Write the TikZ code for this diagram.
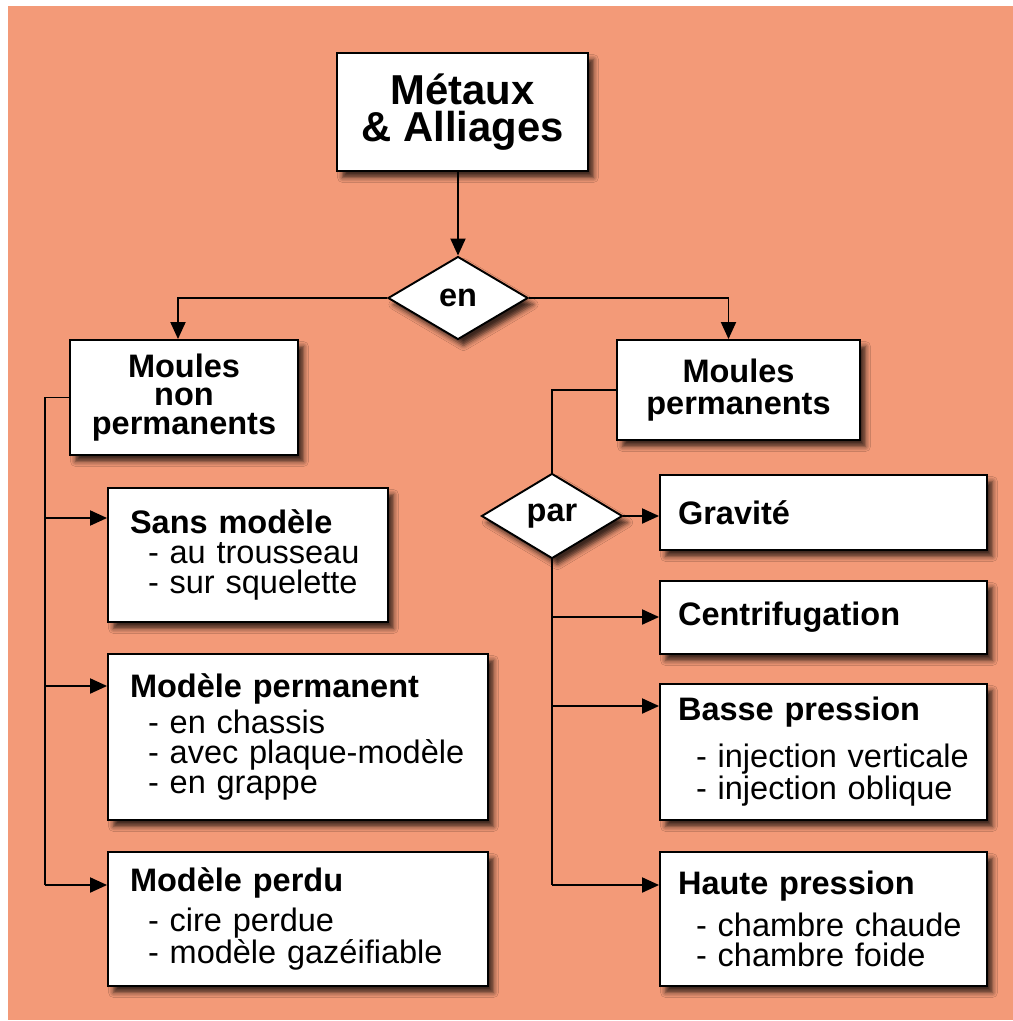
\documentclass[tikz,border=0pt]{standalone}
\usepackage{fontspec}
\setmainfont{Liberation Sans}
\usetikzlibrary{arrows.meta,shapes.geometric,shadows.blur}
\definecolor{saumon}{RGB}{243,154,120}
\newcommand{\tiret}{\hspace*{0.36cm}- }

\begin{document}
\begin{tikzpicture}[x=0.02cm,y=-0.02cm,line width=1.1pt,
    ombre/.style={blur shadow={shadow xshift=0.11cm,shadow yshift=-0.13cm,shadow blur radius=0.1cm,shadow opacity=75}},
    boite/.style={draw,fill=white,ombre,font=\bfseries\fontsize{18.5}{16.2}\selectfont,align=center,inner sep=0pt},
    liste/.style={boite,font=\fontsize{18.5}{17}\selectfont,align=left},
    gauche/.style={liste,inner xsep=0.44cm,text width=#1},
    droite/.style={liste,inner xsep=0.36cm,text width=5.82cm},
    losange/.style={diamond,draw,fill=white,ombre,font=\bfseries\fontsize{18.5}{16}\selectfont,inner sep=0pt},
    fleche/.style={-{Triangle[length=0.34cm,width=0.3cm]}}]
    % fond
    \useasboundingbox[fill=white] (0,0) rectangle (1013,1021);
    \fill[saumon] (8,6) rectangle (1013,1020);
    % en haut
    \node[boite,font=\bfseries\fontsize{23.8}{20.8}\selectfont,minimum width=5.02cm,minimum height=2.36cm] (metaux) at (462.5,112) {Métaux\\\& Alliages};
    \node[losange,minimum width=2.8cm,minimum height=1.66cm] (en) at (458,298) {en};
    \node[boite,minimum width=4.56cm,minimum height=2.3cm] (mnp) at (184,397.5) {Moules\\non\\permanents};
    \node[boite,font=\bfseries\fontsize{18.5}{18}\selectfont,minimum width=4.86cm,minimum height=2cm] (mp) at (738.5,390) {Moules\\permanents};
    % moules non permanents
    \node[gauche=4.72cm,minimum height=2.68cm] (sansmod) at (248,555) {\textbf{Sans modèle}\\[0.5pt]\tiret au trousseau\\\tiret sur squelette};
    \node[gauche=6.72cm,minimum height=3.32cm] (modperm) at (298,737) {\textbf{Modèle permanent}\\[2pt]\tiret en chassis\\\tiret avec plaque-modèle\\\tiret en grappe};
    \node[gauche=6.72cm,minimum height=2.68cm] (modperdu) at (298,919) {\textbf{Modèle perdu}\\[4.5pt]\tiret cire perdue\\\tiret modèle gazéifiable};
    % moules permanents
    \node[losange,minimum width=2.82cm,minimum height=1.7cm] (par) at (552,516) {par};
    \node[droite,minimum height=1.5cm] (gravite) at (823.5,512.5) {\textbf{Gravité}};
    \node[droite,minimum height=1.46cm] (centri) at (823.5,617.5) {\textbf{Centrifugation}};
    \node[droite,minimum height=2.72cm] (basse) at (823.5,752) {\textbf{Basse pression}\\[8.5pt]\tiret injection verticale\\\tiret injection oblique};
    \node[droite,minimum height=2.68cm] (haute) at (823.5,919) {\textbf{Haute pression}\\[5.5pt]\tiret chambre chaude\\\tiret chambre foide};
    % liaisons du haut
    \draw[fleche] (en.north |- metaux.south) -- (en.north);
    \draw[fleche] (en.west) -| ([xshift=-0.12cm]mnp.north);
    \draw[fleche] (en.east) -| ([xshift=-0.2cm]mp.north);
    % branche de gauche
    \coordinate (g1) at (45,518);
    \coordinate (g2) at (45,686);
    \coordinate (g3) at (45,885);
    \draw (mnp.west) -| (g3);
    \draw[fleche] (g1) -- (g1 -| sansmod.west);
    \draw[fleche] (g2) -- (g2 -| modperm.west);
    \draw[fleche] (g3) -- (g3 -| modperdu.west);
    % branche de droite
    \coordinate (d1) at (552,617);
    \coordinate (d2) at (552,706);
    \coordinate (d3) at (552,885);
    \draw (mp.west) -| (par.north);
    \draw (par.south) -- (d3);
    \draw[fleche] (par.east) -- (par.east -| gravite.west);
    \draw[fleche] (d1) -- (d1 -| centri.west);
    \draw[fleche] (d2) -- (d2 -| basse.west);
    \draw[fleche] (d3) -- (d3 -| haute.west);
\end{tikzpicture}
\end{document}
